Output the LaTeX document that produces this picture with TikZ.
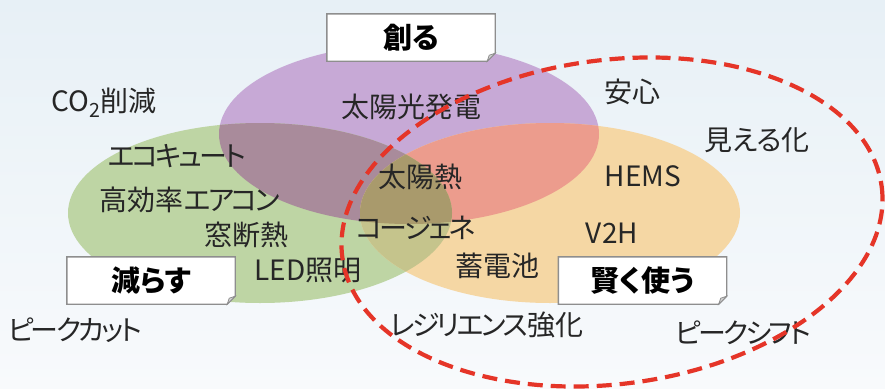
\documentclass[tikz,border=0pt]{standalone}
\usepackage{fontspec}
\setmainfont{Noto Sans CJK JP}[RawFeature=+palt]
\newfontfamily\kana{Noto Sans CJK JP}[RawFeature=+palt, LetterSpace=-10]
\definecolor{txt}{HTML}{262626}
\definecolor{cP}{HTML}{C7A9D6}
\definecolor{cG}{HTML}{BED5A4}
\definecolor{cO}{HTML}{F5D7A4}
\definecolor{cPG}{HTML}{A98B9B}
\definecolor{cPO}{HTML}{EC9C8D}
\definecolor{cGO}{HTML}{C5C48C}
\definecolor{cPGO}{HTML}{A99A6C}
\definecolor{reddash}{HTML}{E53528}
\definecolor{bgtop}{HTML}{E7F0F6}
\definecolor{bgbot}{HTML}{F8FAFC}
\definecolor{boxline}{HTML}{8E8E8E}
\definecolor{fold}{HTML}{D2D2D2}
\tikzset{
  lab/.style={inner sep=0pt, text=txt, font=\fontsize{28}{30}\selectfont},
  lbltxt/.style={inner sep=0pt, text=black, font=\fontsize{29}{31}\selectfont\bfseries},
  boxsz/.style={inner sep=0pt, minimum width=168pt, minimum height=47pt},
  boxln/.style={draw=boxline, line width=1.4pt, fill=white},
  foldln/.style={draw=boxline, line width=0.8pt, fill=fold},
  redline/.style={draw=reddash, line width=4.2pt, dash pattern=on 15pt off 8pt}
}
\def\Pel{(409,134) ellipse [x radius=190, y radius=90]}
\def\Gel{(260,213) ellipse [x radius=192, y radius=90]}
\def\Oel{(550,213) ellipse [x radius=190, y radius=90]}
\newcommand{\labelbox}[4]{%
  \node[boxsz] (#1) at (#2) {};
  \path[boxln] (#1.north west) -- (#1.north east) -- ([yshift=8pt]#1.south east)
    -- ([xshift=-8pt]#1.south east) -- (#1.south west) -- cycle;
  \path[foldln] ([yshift=8pt]#1.south east) -- ([xshift=-8pt]#1.south east)
    -- ([xshift=-6pt,yshift=6pt]#1.south east) -- cycle;
  \node[lbltxt] (#3) at (#1.center) {#4};
}
\begin{document}
\begin{tikzpicture}[x=1pt,y=-1pt]
\useasboundingbox (0,0) rectangle (885,388);
\shade[top color=bgtop, bottom color=bgbot] (0,0) rectangle (885,388);
% circles
\fill[cP] \Pel;
\fill[cG] \Gel;
\fill[cO] \Oel;
\begin{scope}\clip \Pel; \fill[cPG] \Gel; \end{scope}
\begin{scope}\clip \Pel; \fill[cPO] \Oel; \end{scope}
\begin{scope}\clip \Gel; \fill[cGO] \Oel; \end{scope}
\begin{scope}\clip \Pel; \clip \Gel; \fill[cPGO] \Oel; \end{scope}
% category boxes
\labelbox{bTsukuru}{411,37.5}{tTsukuru}{創る}
\labelbox{bHerasu}{151,280.5}{tHerasu}{減らす}
\labelbox{bKashikoku}{642.5,280.5}{tKashikoku}{賢く使う}
% labels
\node[lab] (co2) at (104,103) {CO\textsubscript{2}削減};
\node[lab] (taiyoukou) at (411,107) {太陽光発電};
\node[lab] (anshin) at (632,92) {安心};
\node[lab] (mieruka) at (757,140) {見える化};
\node[lab] (ecocute) at (177,156) {\kana エコキュート};
\node[lab] (taiyounetsu) at (420,177) {太陽熱};
\node[lab] (hems) at (643,176) {HEMS};
\node[lab] (aircon) at (190,200) {高効率{\kana エアコン}};
\node[lab] (cogene) at (416,228) {\kana コージェネ};
\node[lab] (mado) at (246,235) {窓断熱};
\node[lab] (v2h) at (612,233) {V2H};
\node[lab] (led) at (308,271) {LED照明};
\node[lab] (chikuden) at (497,266) {蓄電池};
\node[lab] (peakcut) at (75,330) {\kana ピークカット};
\node[lab] (resilience) at (487,325) {{\kana レジリエンス}強化};
\node[lab] (peakshift) at (743,333) {\kana ピークシフト};
% dashed boundary
\draw[redline, rotate around={7.5:(612,222)}] (612,222) ellipse [x radius=272, y radius=162];
\end{tikzpicture}
\end{document}
